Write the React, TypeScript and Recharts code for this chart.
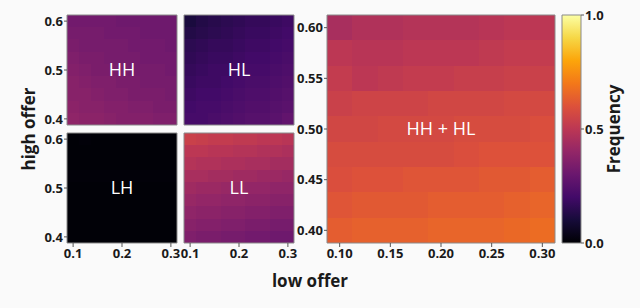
import { ScatterChart, Scatter, XAxis, YAxis, ReferenceArea } from 'recharts';

// cell centres (rows run top -> bottom)
const xCenters = [0.1, 0.125, 0.15, 0.175, 0.2, 0.225, 0.25, 0.275, 0.3];
const yCenters = [0.6, 0.575, 0.55, 0.525, 0.5, 0.475, 0.45, 0.425, 0.4];

const smallXTicks = [0.1, 0.2, 0.3];
const smallYTicks = [0.4, 0.5, 0.6];
const bigXTicks = [0.1, 0.15, 0.2, 0.25, 0.3];
const bigYTicks = [0.4, 0.45, 0.5, 0.55, 0.6];
const cbTicks = [0, 0.5, 1];

const hhValues = [
  [0.32, 0.32, 0.32, 0.32, 0.31, 0.31, 0.31, 0.31, 0.31],
  [0.33, 0.33, 0.33, 0.32, 0.32, 0.32, 0.31, 0.31, 0.31],
  [0.34, 0.33, 0.33, 0.33, 0.33, 0.32, 0.32, 0.32, 0.31],
  [0.35, 0.34, 0.34, 0.33, 0.33, 0.33, 0.32, 0.32, 0.32],
  [0.36, 0.35, 0.34, 0.34, 0.34, 0.33, 0.33, 0.33, 0.32],
  [0.37, 0.36, 0.35, 0.35, 0.34, 0.34, 0.33, 0.33, 0.33],
  [0.37, 0.37, 0.36, 0.35, 0.35, 0.34, 0.34, 0.34, 0.33],
  [0.38, 0.37, 0.37, 0.36, 0.36, 0.35, 0.35, 0.34, 0.34],
  [0.39, 0.38, 0.38, 0.37, 0.36, 0.36, 0.36, 0.35, 0.35],
];

const hlValues = [
  [0.11, 0.13, 0.14, 0.15, 0.16, 0.17, 0.17, 0.18, 0.19],
  [0.13, 0.14, 0.15, 0.16, 0.17, 0.18, 0.18, 0.19, 0.2],
  [0.15, 0.16, 0.17, 0.17, 0.18, 0.19, 0.19, 0.2, 0.21],
  [0.16, 0.17, 0.18, 0.18, 0.19, 0.2, 0.2, 0.21, 0.22],
  [0.17, 0.18, 0.19, 0.19, 0.2, 0.21, 0.21, 0.22, 0.23],
  [0.18, 0.19, 0.19, 0.2, 0.21, 0.22, 0.22, 0.23, 0.24],
  [0.19, 0.2, 0.2, 0.21, 0.22, 0.23, 0.23, 0.24, 0.25],
  [0.2, 0.21, 0.21, 0.22, 0.23, 0.24, 0.24, 0.25, 0.26],
  [0.21, 0.21, 0.22, 0.23, 0.24, 0.25, 0.25, 0.26, 0.28],
];

const lhValues = [
  [0.005, 0.01, 0.005, 0.005, 0.005, 0.005, 0.005, 0.005, 0.005],
  [0.005, 0.005, 0.005, 0.005, 0.005, 0.005, 0.005, 0.005, 0.005],
  [0.005, 0.005, 0.005, 0.005, 0.005, 0.005, 0.005, 0.005, 0.005],
  [0.01, 0.01, 0.01, 0.01, 0.01, 0.01, 0.01, 0.01, 0.01],
  [0.005, 0.005, 0.005, 0.005, 0.005, 0.005, 0.005, 0.005, 0.005],
  [0.005, 0.005, 0.005, 0.005, 0.005, 0.005, 0.005, 0.005, 0.005],
  [0.005, 0.005, 0.005, 0.005, 0.005, 0.005, 0.005, 0.005, 0.005],
  [0.005, 0.005, 0.005, 0.005, 0.005, 0.005, 0.005, 0.005, 0.005],
  [0.005, 0.005, 0.005, 0.005, 0.005, 0.005, 0.005, 0.005, 0.005],
];

const llValues = [
  [0.54, 0.53, 0.52, 0.52, 0.51, 0.51, 0.5, 0.5, 0.49],
  [0.5, 0.5, 0.49, 0.49, 0.48, 0.48, 0.47, 0.47, 0.46],
  [0.48, 0.47, 0.47, 0.46, 0.46, 0.45, 0.45, 0.44, 0.44],
  [0.45, 0.45, 0.44, 0.44, 0.43, 0.43, 0.42, 0.42, 0.41],
  [0.43, 0.42, 0.42, 0.41, 0.41, 0.4, 0.4, 0.39, 0.39],
  [0.41, 0.4, 0.4, 0.39, 0.39, 0.38, 0.38, 0.37, 0.37],
  [0.39, 0.38, 0.38, 0.37, 0.37, 0.36, 0.36, 0.35, 0.35],
  [0.37, 0.36, 0.36, 0.35, 0.35, 0.34, 0.34, 0.33, 0.33],
  [0.35, 0.34, 0.34, 0.33, 0.33, 0.32, 0.32, 0.31, 0.31],
];

const combinedValues = [
  [0.45, 0.47, 0.47, 0.48, 0.48, 0.48, 0.49, 0.5, 0.5],
  [0.5, 0.49, 0.49, 0.5, 0.5, 0.5, 0.51, 0.52, 0.52],
  [0.52, 0.5, 0.51, 0.52, 0.52, 0.53, 0.53, 0.54, 0.54],
  [0.54, 0.55, 0.55, 0.55, 0.56, 0.56, 0.56, 0.57, 0.57],
  [0.56, 0.56, 0.57, 0.57, 0.57, 0.58, 0.58, 0.58, 0.59],
  [0.58, 0.58, 0.58, 0.58, 0.58, 0.59, 0.6, 0.6, 0.6],
  [0.59, 0.6, 0.6, 0.61, 0.61, 0.61, 0.62, 0.62, 0.63],
  [0.61, 0.62, 0.62, 0.62, 0.63, 0.63, 0.63, 0.64, 0.65],
  [0.63, 0.64, 0.64, 0.64, 0.65, 0.65, 0.65, 0.66, 0.67],
];

const INFERNO = ['#000004', '#160b39', '#420a68', '#6a176e', '#932667', '#bc3754', '#dd513a', '#f37819', '#fca50a', '#f6d746', '#fcffa4'];

function hexToRgb(h: string) {
  return [1, 3, 5].map((i) => parseInt(h.slice(i, i + 2), 16));
}

function inferno(v: number) {
  const p = Math.max(0, Math.min(1, v)) * (INFERNO.length - 1);
  const i = Math.min(Math.floor(p), INFERNO.length - 2);
  const t = p - i;
  const a = hexToRgb(INFERNO[i]);
  const b = hexToRgb(INFERNO[i + 1]);
  const c = a.map((x, k) => Math.round(x + (b[k] - x) * t));
  return `rgb(${c[0]},${c[1]},${c[2]})`;
}

const HALF = 0.0125;
const X_DOMAIN: [number, number] = [0.0875, 0.3125];
const Y_DOMAIN: [number, number] = [0.3875, 0.6125];
const PAD = 10; // room so edge tick labels are not clipped

const tickStyle = { fill: '#1a1a1a', fontSize: 13, fontWeight: 700, fontFamily: "'Open Sans', sans-serif" };
const titleStyle = { fill: '#1a1a1a', fontSize: 17, fontWeight: 700, fontFamily: "'Open Sans', sans-serif" };

interface PanelProps {
  values: number[][];
  label: string;
  left: number;
  top: number;
  size: number;
  xTicks: number[];
  yTicks: number[];
  showX: boolean;
  showY: boolean;
  digits: number;
}

function Panel({ values, label, left, top, size, xTicks, yTicks, showX, showY, digits }: PanelProps) {
  const yw = showY ? 40 : 0;
  const xh = showX ? 24 : 0;
  const cells = values.flatMap((row, r) => row.map((v, c) => ({ x: xCenters[c], y: yCenters[r], v })));
  return (
    <div style={{ position: 'absolute', left: left - yw - PAD, top: top - PAD }}>
      <ScatterChart
        width={size + yw + 2 * PAD}
        height={size + xh + 2 * PAD}
        margin={{ top: PAD, right: PAD, bottom: PAD, left: PAD }}
      >
        <XAxis
          type="number"
          dataKey="x"
          domain={X_DOMAIN}
          ticks={xTicks}
          hide={!showX}
          height={xh}
          axisLine={false}
          tickSize={4}
          tickMargin={2}
          tickLine={{ stroke: '#555' }}
          tick={tickStyle}
          tickFormatter={(t: number) => t.toFixed(digits)}
          interval={0}
        />
        <YAxis
          type="number"
          dataKey="y"
          domain={Y_DOMAIN}
          ticks={yTicks}
          hide={!showY}
          width={yw}
          axisLine={false}
          tickSize={3}
          tickMargin={1}
          tickLine={{ stroke: '#555' }}
          tick={tickStyle}
          tickFormatter={(t: number) => t.toFixed(digits)}
          interval={0}
        />
        <Scatter data={cells} isAnimationActive={false} shape={() => <g />} />
        {cells.map((c, i) => (
          <ReferenceArea
            key={i}
            x1={c.x - HALF}
            x2={c.x + HALF}
            y1={c.y - HALF}
            y2={c.y + HALF}
            fill={inferno(c.v)}
            fillOpacity={1}
            stroke="none"
            shapeRendering="crispEdges"
          />
        ))}
        <ReferenceArea
          x1={X_DOMAIN[0]}
          x2={X_DOMAIN[1]}
          y1={Y_DOMAIN[0]}
          y2={Y_DOMAIN[1]}
          fill="none"
          stroke="#8a8a8a"
          strokeWidth={1}
          label={{ value: label, position: 'center', fill: '#fff', fontSize: 18, fontFamily: "'Open Sans', sans-serif" }}
        />
      </ScatterChart>
    </div>
  );
}

function ColorBar() {
  return (
    <div style={{ position: 'absolute', left: 562 - PAD, top: 15 - PAD }}>
      <ScatterChart width={19 + 34 + 2 * PAD} height={228 + 2 * PAD} margin={{ top: PAD, right: PAD, bottom: PAD, left: PAD }}>
        <defs>
          <linearGradient id="infernoGrad" x1="0" y1="1" x2="0" y2="0">
            {INFERNO.map((c, i) => (
              <stop key={i} offset={`${(i / (INFERNO.length - 1)) * 100}%`} stopColor={c} />
            ))}
          </linearGradient>
        </defs>
        <XAxis type="number" dataKey="x" domain={[0, 1]} hide />
        <YAxis
          type="number"
          dataKey="y"
          orientation="right"
          domain={[0, 1]}
          ticks={cbTicks}
          width={34}
          axisLine={false}
          tickSize={3}
          tickMargin={1}
          tickLine={{ stroke: '#555' }}
          tick={tickStyle}
          tickFormatter={(t: number) => t.toFixed(1)}
          interval={0}
        />
        <Scatter data={cbTicks.map((t) => ({ x: 0.5, y: t }))} isAnimationActive={false} shape={() => <g />} />
        <ReferenceArea x1={0} x2={1} y1={0} y2={1} fill="url(#infernoGrad)" fillOpacity={1} stroke="#8a8a8a" strokeWidth={1} />
      </ScatterChart>
    </div>
  );
}

export default function App() {
  return (
    <div style={{ position: 'absolute', left: 0, top: 0, width: 640, height: 308, background: '#fafafa', overflow: 'hidden' }}>
      <Panel values={hhValues} label="HH" left={67} top={15} size={110} xTicks={smallXTicks} yTicks={smallYTicks} showX={false} showY digits={1} />
      <Panel values={hlValues} label="HL" left={184} top={15} size={110} xTicks={smallXTicks} yTicks={smallYTicks} showX={false} showY={false} digits={1} />
      <Panel values={lhValues} label="LH" left={67} top={133} size={110} xTicks={smallXTicks} yTicks={smallYTicks} showX showY digits={1} />
      <Panel values={llValues} label="LL" left={184} top={133} size={110} xTicks={smallXTicks} yTicks={smallYTicks} showX showY={false} digits={1} />
      <Panel values={combinedValues} label="HH + HL" left={327} top={15} size={228} xTicks={bigXTicks} yTicks={bigYTicks} showX showY digits={2} />
      <ColorBar />
      <svg width={640} height={308} style={{ position: 'absolute', left: 0, top: 0, pointerEvents: 'none' }}>
        <text x={310} y={287} textAnchor="middle" style={titleStyle}>low offer</text>
        <text x={0} y={0} textAnchor="middle" style={titleStyle} transform="translate(35,129) rotate(-90)">high offer</text>
        <text x={0} y={0} textAnchor="middle" style={titleStyle} transform="translate(620,129) rotate(-90)">Frequency</text>
      </svg>
    </div>
  );
}
